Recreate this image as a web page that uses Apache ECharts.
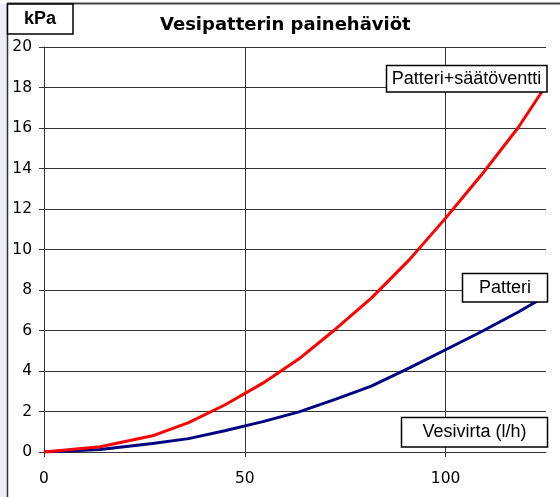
<!DOCTYPE html>
<html>
<head>
<meta charset="utf-8">
<script src="https://cdn.jsdelivr.net/npm/echarts@6/dist/echarts.min.js"></script>
<style>html,body{margin:0;padding:0;background:#fff}#c{width:560px;height:497px}</style>
</head>
<body>
<div id="c"></div>
<script>
// Data
var flows = [0, 14, 27, 36, 45, 54.5, 63.5, 72.5, 81.5, 91, 100, 109, 118, 125];
var patteri = [0, 0.12, 0.42, 0.66, 1.05, 1.5, 1.98, 2.6, 3.25, 4.15, 5.05, 5.95, 6.9, 7.7];
var patteriVentti = [0, 0.26, 0.8, 1.45, 2.32, 3.4, 4.6, 6.05, 7.6, 9.5, 11.55, 13.7, 16.0, 18.1];
var xLabels = [0, 50, 100];
var titleText = 'Vesipatterin painehäviöt';
var unitText = 'kPa';
var xName = 'Vesivirta (l/h)';
var nameA = 'Patteri';
var nameB = 'Patteri+säätöventti';

function pairs(xs, ys) { return xs.map(function (x, i) { return [x, ys[i]]; }); }

var chart = echarts.init(document.getElementById('c'), null, {renderer: 'canvas'});
var gridColor = '#333';
chart.setOption({
  animation: false,
  backgroundColor: '#fff',
  title: {
    text: titleText,
    left: 155, top: 11,
    textStyle: {fontFamily: 'DejaVu Sans', fontWeight: 'bold', fontSize: 18, color: '#000'}
  },
  grid: {left: 44, right: 14, top: 47, bottom: 45},
  xAxis: {
    type: 'value', min: 0, max: 125, interval: 25,
    axisLine: {show: true, onZero: false, lineStyle: {color: gridColor, width: 1}},
    axisTick: {show: true, length: 5, customValues: xLabels, lineStyle: {color: gridColor}},
    axisLabel: {
      customValues: xLabels, margin: 19,
      fontFamily: 'DejaVu Sans', fontSize: 15.5, color: '#000',
      formatter: function (v) { return (v % 50 === 0) ? String(v) : ''; }
    },
    splitLine: {show: true, lineStyle: {color: gridColor, width: 1}}
  },
  yAxis: {
    type: 'value', min: 0, max: 20, interval: 2,
    axisLine: {show: true, lineStyle: {color: gridColor, width: 1}},
    axisTick: {show: true, length: 5, lineStyle: {color: gridColor}},
    axisLabel: {margin: 12, fontFamily: 'DejaVu Sans', fontSize: 15.5, color: '#000'},
    splitLine: {show: true, lineStyle: {color: gridColor, width: 1}}
  },
  series: [
    {name: nameA, type: 'line', data: pairs(flows, patteri), showSymbol: false, symbol: 'none',
     lineStyle: {color: '#000080', width: 3}, z: 3},
    {name: nameB, type: 'line', data: pairs(flows, patteriVentti), showSymbol: false, symbol: 'none',
     lineStyle: {color: '#ff0000', width: 3}, z: 4}
  ],
  graphic: [
    {type: 'rect', shape: {x: 0, y: 4, width: 7, height: 493}, style: {fill: '#ededf8'}, silent: true, z: 10},
    {type: 'line', shape: {x1: 7.5, y1: 3, x2: 7.5, y2: 497}, style: {stroke: '#333', lineWidth: 1.5}, silent: true, z: 11},
    {type: 'line', shape: {x1: 7, y1: 3.5, x2: 560, y2: 3.5}, style: {stroke: '#444', lineWidth: 2}, silent: true, z: 11},
    {type: 'rect', shape: {x: 7.5, y: 4, width: 65.5, height: 30}, style: {fill: '#fff', stroke: '#000', lineWidth: 1.5}, z: 12},
    {type: 'text', x: 40, y: 19.5, style: {text: unitText, fontFamily: 'Liberation Sans', fontWeight: 'bold', fontSize: 18, fill: '#000', align: 'center', verticalAlign: 'middle'}, z: 13},
    {type: 'rect', shape: {x: 386.5, y: 65.5, width: 160.5, height: 26.5}, style: {fill: '#fff', stroke: '#000', lineWidth: 1.5}, z: 12},
    {type: 'text', x: 466.5, y: 79, style: {text: nameB, fontFamily: 'Liberation Sans', fontSize: 18, fill: '#000', align: 'center', verticalAlign: 'middle'}, z: 13},
    {type: 'rect', shape: {x: 462.5, y: 273.5, width: 85, height: 28.5}, style: {fill: '#fff', stroke: '#000', lineWidth: 1.5}, z: 12},
    {type: 'text', x: 505, y: 288, style: {text: nameA, fontFamily: 'Liberation Sans', fontSize: 18, fill: '#000', align: 'center', verticalAlign: 'middle'}, z: 13},
    {type: 'rect', shape: {x: 401.5, y: 417.5, width: 146, height: 29.5}, style: {fill: '#fff', stroke: '#000', lineWidth: 1.5}, z: 12},
    {type: 'text', x: 474.5, y: 432.5, style: {text: xName, fontFamily: 'Liberation Sans', fontSize: 18, fill: '#000', align: 'center', verticalAlign: 'middle'}, z: 13}
  ]
});
</script>
</body>
</html>
